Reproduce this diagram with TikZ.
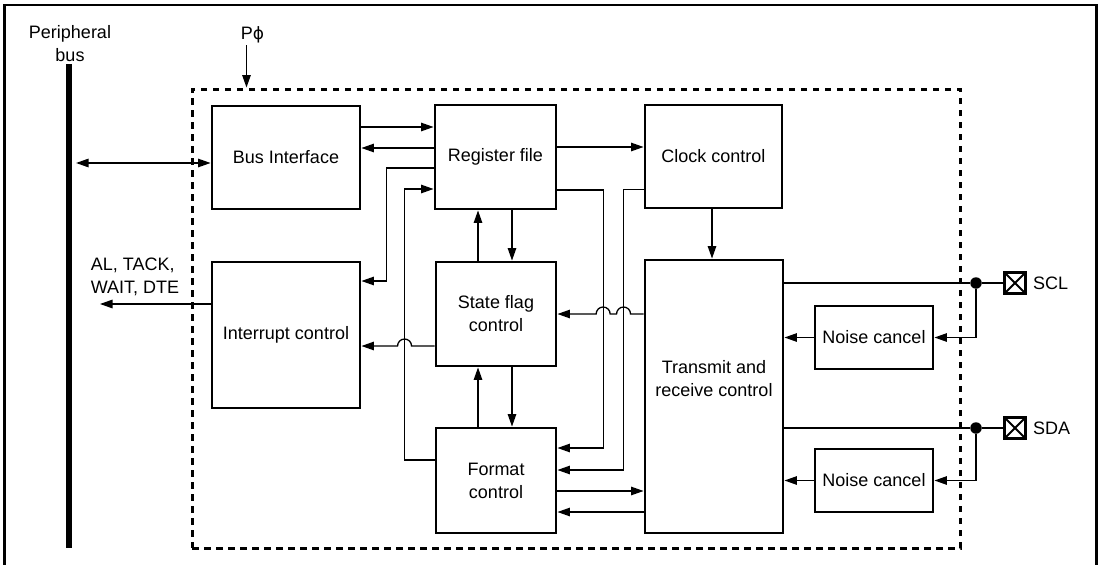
\documentclass[tikz,border=0pt]{standalone}
\usepackage{fontspec}
\setmainfont{Liberation Sans}
\newfontfamily\symb{DejaVu Sans}
\usetikzlibrary{arrows.meta,calc}

\begin{document}
\begin{tikzpicture}[x=1pt, y=1pt,
  texte/.style={font=\fontsize{18}{23}\selectfont, align=center, inner sep=0pt},
  boite/.style={texte, draw, line width=2.9pt},
  taille/.style 2 args={minimum width=#1pt, minimum height=#2pt},
  fil/.style={line width=1.3pt},
  fleche/.style={fil, -{Triangle[length=12.5pt,width=8.5pt]}},
  fleches/.style={fil, {Triangle[length=12.5pt,width=8.5pt]}-{Triangle[length=12.5pt,width=8.5pt]}},
  point/.style={circle, fill, minimum size=11.5pt, inner sep=0pt},
  broche/.style={draw, line width=2.6pt, minimum size=21pt, inner sep=0pt,
    path picture={\draw[line width=2pt]
      (path picture bounding box.north west) -- (path picture bounding box.south east)
      (path picture bounding box.north east) -- (path picture bounding box.south west);}}]

  \useasboundingbox (0,0) rectangle (1101,-565);
  \draw[line width=2.8pt] (4.3,-570) -- (4.3,-5) -- (1096.5,-5) -- (1096.5,-570);

  \node[draw, line width=3pt, dash pattern=on 6.5pt off 5.5pt, taille={768}{459}]
    (LSI) at (576,-318.5) {};
  \node[fill, taille={5.7}{484}, inner sep=0pt] (BUS) at (69,-306) {};
  \node[texte] (PB) at (70,-44) {Peripheral\\bus};
  \node[texte] (PHI) at (252.5,-35) {P{\symb\fontsize{17}{20}\selectfont ϕ}};

  \node[boite, taille={148}{103}] (BI) at (286,-157.5) {Bus Interface};
  \node[boite, taille={121}{104}] (RF) at (495.5,-157) {Register file};
  \node[boite, taille={137}{103}] (CC) at (713.5,-156.5) {Clock control};
  \node[boite, taille={148}{146}] (IC) at (286,-335) {Interrupt control};
  \node[boite, taille={120}{104}] (SF) at (496,-314) {State flag\\control};
  \node[boite, taille={120}{105}] (FC) at (496,-480.5) {Format\\control};
  \node[boite, taille={138}{273}] (TR) at (714,-396.5) {};
  \node[texte] (TRtxt) at (714,-378.5) {Transmit and\\receive control};
  \node[boite, taille={118}{63}] (NC1) at (874,-337.5) {Noise cancel};
  \node[boite, taille={118}{63}] (NC2) at (874,-480.5) {Noise cancel};

  \node[point] (D1) at (976,-283) {};
  \node[point] (D2) at (976,-428) {};
  \node[broche] (SCL) at (1015,-283) {};
  \node[broche] (SDA) at (1015,-428) {};
  \node[texte, anchor=west] (SCLtxt) at ([xshift=6pt]SCL.east) {SCL};
  \node[texte, anchor=west] (SDAtxt) at ([xshift=6pt]SDA.east) {SDA};

  \node[texte, align=left] (SIG) at (135,-277) {AL, TACK,\\WAIT, DTE};
  \coordinate (OUT) at (100,-304);

  \draw[fleche, shorten <=2pt] ([xshift=-6pt]PHI.south) -- ([xshift=-6pt]PHI.south |- LSI.north);
  \draw[fleches, shorten <=4pt] ([yshift=-5.5pt]BI.west -| BUS.east) -- ([yshift=-5.5pt]BI.west);
  \draw[fleche] ([yshift=31pt]IC.west) -- (OUT);

  \draw[fleche] ([yshift=30.5pt]BI.east) -- ([yshift=30.5pt]BI.east -| RF.west);
  \draw[fleche] ([yshift=9.5pt]BI.east -| RF.west) -- ([yshift=9.5pt]BI.east);
  \draw[fleche] ([yshift=10pt]RF.east) -- ([yshift=10pt]RF.east -| CC.west);
  \draw[fleche] ([yshift=-11pt]RF.west) -- ++(-47,0) |- ([yshift=54pt]IC.east);
  \draw[fleche] ([yshift=20.5pt]FC.west) -- ++(-30,0) |- ([yshift=-32pt]RF.west);
  \draw[fleche] ([yshift=-33pt]RF.east) -- ++(46,0) |- ([yshift=32.5pt]FC.east);
  \draw[fleche] ([yshift=-33pt]CC.west) -- ++(-20,0) |- ([yshift=10.5pt]FC.east);

  \draw[fleche] ([xshift=16.5pt]RF.south) -- ([xshift=16.5pt]RF.south |- SF.north);
  \draw[fleche] ([xshift=-18pt]SF.north) -- ([xshift=-18pt]SF.north |- RF.south);
  \draw[fleche] ([xshift=16pt]SF.south) -- ([xshift=16pt]SF.south |- FC.north);
  \draw[fleche] ([xshift=-18pt]FC.north) -- ([xshift=-18pt]FC.north |- SF.south);
  \draw[fleche] ([xshift=-1.5pt]CC.south) -- ([xshift=-1.5pt]CC.south |- TR.north);

  \draw[fleche] (SF.east -| TR.west) -- ++(-13,0) arc[start angle=0, end angle=180, radius=7]
    -- ++(-6.4,0) arc[start angle=0, end angle=180, radius=7] -- (SF.east);
  \draw[fleche] ([yshift=-32pt]SF.west) -- ++(-23,0) arc[start angle=0, end angle=180, radius=7]
    -- ([yshift=-32pt]SF.west -| IC.east);

  \draw[fleche] ([yshift=-10.5pt]FC.east) -- ([yshift=-10.5pt]FC.east -| TR.west);
  \draw[fleche] ([yshift=-31.5pt]FC.east -| TR.west) -- ([yshift=-31.5pt]FC.east);

  \draw[fil] (D1 -| TR.east) -- (D1) -- (SCL);
  \draw[fleche] (D1) |- (NC1.east);
  \draw[fleche] (NC1.west) -- (NC1.west -| TR.east);
  \draw[fil] (D2 -| TR.east) -- (D2) -- (SDA);
  \draw[fleche] (D2) |- (NC2.east);
  \draw[fleche] (NC2.west) -- (NC2.west -| TR.east);
\end{tikzpicture}
\end{document}
